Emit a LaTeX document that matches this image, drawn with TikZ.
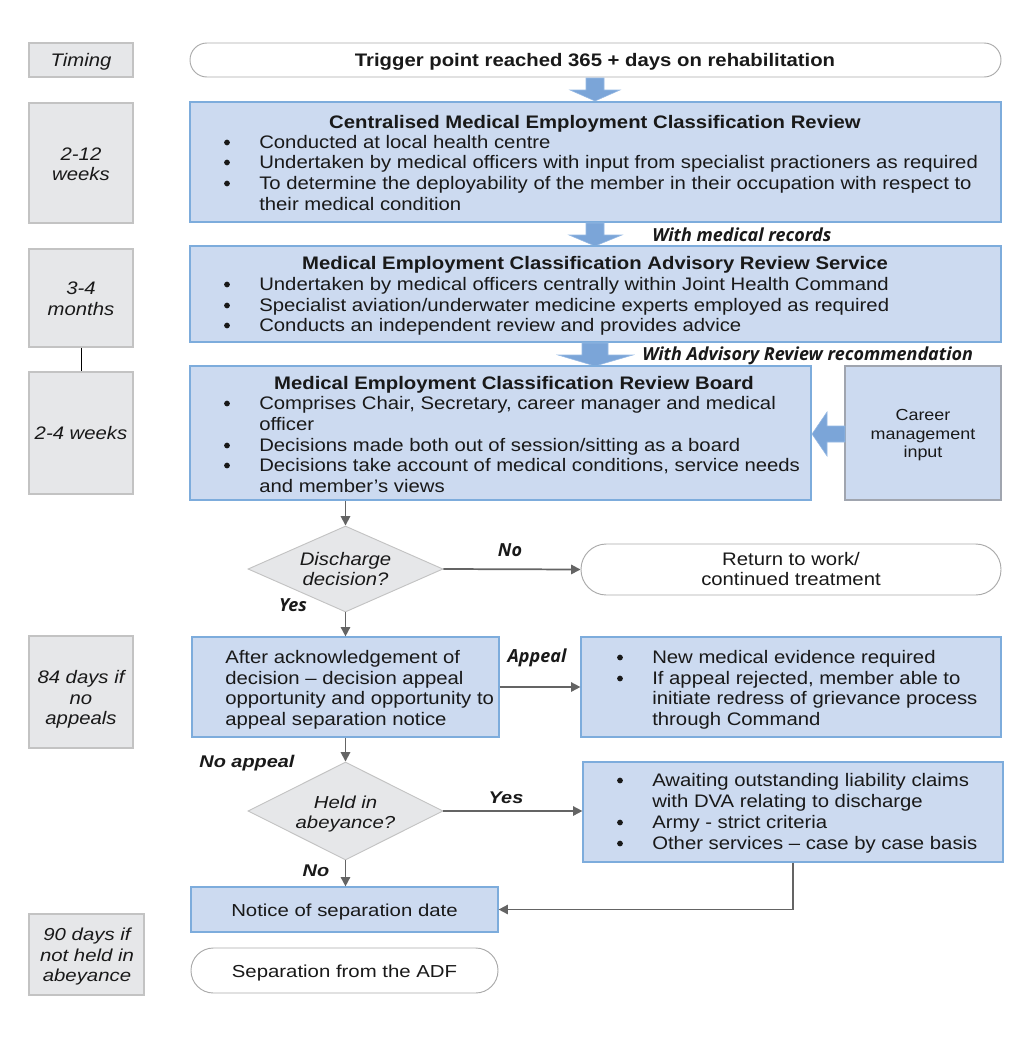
\documentclass[tikz,border=0pt]{standalone}
\usepackage{fontspec}
\setmainfont{Liberation Sans}[FakeStretch=1.12]
\newfontfamily\lblfont{Open Sans}
\newfontfamily\widefont{Liberation Sans}[FakeStretch=1.175]
\usetikzlibrary{shapes.geometric,arrows.meta}
\definecolor{bfill}{RGB}{204,218,240}
\definecolor{bborder}{RGB}{125,172,220}
\definecolor{gfill}{RGB}{230,231,233}
\definecolor{gborder}{RGB}{195,195,195}
\definecolor{cborder}{RGB}{160,165,175}
\definecolor{rborder}{RGB}{170,170,170}
\definecolor{afill}{RGB}{123,165,216}
\definecolor{aedge}{RGB}{150,185,228}
\definecolor{connc}{RGB}{100,100,100}
\definecolor{txtc}{RGB}{25,25,25}
\newcommand\mkbox[6]{\node[#6, minimum width={(#4-#2)*0.75pt}, minimum height={(#5-#3)*0.75pt}] (#1) at ({(#2+#4)/2},{(#3+#5)/2}) {};}
\newcommand\bl[4]{\node[txt,anchor=base west] (#1) at (#2,#3+7) {#4};}
\newcommand\bc[4]{\node[txt,anchor=base] (#1) at (#2,#3+7) {#4};}
\newcommand\bu[3]{\node[bdot] (#1) at (#2,#3+1.5) {};}
\tikzset{
  bbox/.style={draw=bborder, fill=bfill, line width=0.9pt, inner sep=0},
  gbox/.style={draw=gborder, fill=gfill, line width=0.9pt, inner sep=0},
  pill/.style={draw=rborder, fill=white, line width=0.7pt, inner sep=0},
  dia/.style={diamond, draw=gborder, fill=gfill, line width=0.7pt, inner sep=0},
  bdot/.style={circle, fill=txtc, inner sep=0, minimum size=4.3pt},
  txt/.style={inner sep=0, text=txtc, font=\fontsize{13.6}{16}\selectfont},
  ttl/.style={txt, font=\fontsize{13.6}{16}\selectfont\bfseries},
  itx/.style={txt, font=\fontsize{13.6}{16}\selectfont\itshape},
  wtx/.style={txt, font=\fontsize{13}{16}\selectfont\widefont},
  witx/.style={txt, font=\fontsize{13}{16}\selectfont\widefont\itshape},
  ctx/.style={txt, font=\fontsize{12}{14}\selectfont},
  lbl/.style={inner sep=0, text=txtc, font=\fontsize{13.5}{16}\selectfont\lblfont\bfseries\itshape},
  wlbl/.style={inner sep=0, text=txtc, font=\fontsize{12.7}{16}\selectfont\widefont\bfseries\itshape},
  conn/.style={draw=connc, line width=1.3pt, -{Triangle[length=7pt,width=7pt]}},
  barrow/.style={fill=afill, draw=aedge, line width=0.4pt},
}
\begin{document}
\begin{tikzpicture}[x=0.75pt,y=-0.75pt]
\useasboundingbox[fill=white] (0,0) rectangle (1034,1039);

% ---------- left timing boxes ----------
\mkbox{lb1}{29}{43}{133}{77}{gbox}
\node[itx] (lb1t) at (81,62) {Timing};
\mkbox{lb2}{29}{103}{133}{223}{gbox}
\bc{lb2a}{81}{153}{\itshape 2-12}
\bc{lb2b}{81}{173}{\itshape weeks}
\mkbox{lb3}{29}{249}{133}{347}{gbox}
\bc{lb3a}{81}{287}{\itshape 3-4}
\bc{lb3b}{81}{308}{\itshape months}
\mkbox{lb4}{29}{372}{133}{494}{gbox}
\bc{lb4a}{81}{432}{\itshape 2-4 weeks}
\mkbox{lb5}{29}{636}{133}{748}{gbox}
\bc{lb5a}{81}{676}{\itshape 84 days if}
\bc{lb5b}{81}{697}{\itshape no}
\bc{lb5c}{81}{717}{\itshape appeals}
\mkbox{lb6}{29}{914}{144}{995}{gbox}
\node[witx,anchor=base] (lb6a) at (87,940) {90 days if};
\node[witx,anchor=base] (lb6b) at (87,961) {not held in};
\node[witx,anchor=base] (lb6c) at (87,981) {abeyance};
\draw[black, line width=0.6pt] (lb3.south) -- (lb4.north);

% ---------- trigger ----------
\mkbox{trig}{190}{43}{1001}{77}{pill, rounded corners=12.7pt}
\node[ttl] (trigt) at (595,62) {Trigger point reached 365 + days on rehabilitation};

% block arrow 1
\path[barrow] (586,78) -- (604,78) -- (604,90) -- (620,90) -- (595,101) -- (570,90) -- (586,90) -- cycle;

% ---------- box 1 ----------
\mkbox{b1}{190}{102}{1001}{222}{bbox}
\bc{b1t}{595}{121}{\bfseries Centralised Medical Employment Classification Review}
\bu{b1u1}{227}{141}
\bl{b1a}{259}{141}{Conducted at local health centre}
\bu{b1u2}{227}{161}
\bl{b1b}{259}{161}{Undertaken by medical officers with input from specialist practioners as required}
\bu{b1u3}{227}{182}
\bl{b1c}{259}{182}{To determine the deployability of the member in their occupation with respect to}
\bl{b1d}{259}{203}{their medical condition}

% block arrow 2
\path[barrow] (586,223) -- (604,223) -- (604,235) -- (622,235) -- (595,246) -- (569,235) -- (586,235) -- cycle;
\node[lbl,anchor=west] (lab1) at (652,234.5) {With medical records};

% ---------- box 2 ----------
\mkbox{b2}{190}{246}{1001}{342}{bbox}
\bc{b2t}{595}{262}{\bfseries Medical Employment Classification Advisory Review Service}
\bu{b2u1}{227}{283}
\bl{b2a}{259}{283}{Undertaken by medical officers centrally within Joint Health Command}
\bu{b2u2}{227}{304}
\bl{b2b}{259}{304}{Specialist aviation/underwater medicine experts employed as required}
\bu{b2u3}{227}{324}
\bl{b2c}{259}{324}{Conducts an independent review and provides advice}

% block arrow 3
\path[barrow] (582,343) -- (608,343) -- (608,355) -- (633,355) -- (595,366) -- (558,355) -- (582,355) -- cycle;
\node[lbl,anchor=west] (lab2) at (642,355.5) {With Advisory Review recommendation};

% ---------- box 3 ----------
\mkbox{b3}{190}{366}{811}{500}{bbox}
\bc{b3t}{514}{382}{\bfseries Medical Employment Classification Review Board}
\bu{b3u1}{227}{402}
\bl{b3a}{259}{402}{Comprises Chair, Secretary, career manager and medical}
\bl{b3b}{259}{423}{officer}
\bu{b3u2}{227}{444}
\bl{b3c}{259}{444}{Decisions made both out of session/sitting as a board}
\bu{b3u3}{227}{464}
\bl{b3d}{259}{464}{Decisions take account of medical conditions, service needs}
\bl{b3e}{259}{485}{and member’s views}

% career box
\mkbox{cm}{845}{366}{1001}{500}{bbox, draw=cborder}
\node[ctx,anchor=base] (cma) at (923,420) {Career};
\node[ctx,anchor=base] (cmb) at (923,439) {management};
\node[ctx,anchor=base] (cmc) at (923,457) {input};
% block arrow left
\path[barrow] (845,426) -- (827,426) -- (827,412) -- (812,434) -- (827,456) -- (827,442) -- (845,442) -- cycle;

% ---------- discharge decision ----------
\node[dia, minimum width=146.25pt, minimum height=64.5pt] (d1) at (345.5,569) {};
\bc{d1a}{345.5}{558}{\itshape Discharge}
\bc{d1b}{345.5}{578}{\itshape decision?}
\draw[conn] (d1.north |- b3.south) -- (d1.north);

\mkbox{ret}{581}{544}{1001}{595}{pill, rounded corners=19pt}
\bc{reta}{791}{558}{Return to work/}
\bc{retb}{791}{578}{continued treatment}
\draw[conn] (d1.east) -- (ret.west);
\node[lbl] (lno1) at (510,550.5) {No};
\node[lbl] (lyes1) at (293,605.5) {Yes};

% ---------- box 4 ----------
\mkbox{b4}{192}{637}{499}{737}{bbox}
\bl{b4a}{225}{656}{After acknowledgement of}
\bl{b4b}{225}{677}{decision – decision appeal}
\bl{b4c}{225}{697}{opportunity and opportunity to}
\bl{b4d}{225}{718}{appeal separation notice}
\draw[conn] (d1.south) -- (d1.south |- b4.north);

\mkbox{b5}{581}{637}{1001}{737}{bbox}
\bu{b5u1}{620}{656}
\bl{b5a}{652}{656}{New medical evidence required}
\bu{b5u2}{620}{677}
\bl{b5b}{652}{677}{If appeal rejected, member able to}
\bl{b5c}{652}{697}{initiate redress of grievance process}
\bl{b5d}{652}{718}{through Command}
\draw[conn] (b4.east) -- (b5.west);
\node[lbl] (lapp) at (537,657.5) {Appeal};

% ---------- held in abeyance ----------
\node[dia, minimum width=146.25pt, minimum height=73.5pt] (d2) at (345.5,811) {};
\node[witx,anchor=base] (d2a) at (345.5,808) {Held in};
\node[witx,anchor=base] (d2b) at (345.5,828) {abeyance?};
\draw[conn] (d2.north |- b4.south) -- (d2.north);
\node[wlbl] (lnoap) at (247,763.5) {No appeal};

\mkbox{b6}{583}{762}{1003}{862}{bbox}
\bu{b6u1}{620}{779}
\bl{b6a}{652}{779}{Awaiting outstanding liability claims}
\bl{b6b}{652}{800}{with DVA relating to discharge}
\bu{b6u2}{620}{821}
\bl{b6c}{652}{821}{Army - strict criteria}
\bu{b6u3}{620}{842}
\bl{b6d}{652}{842}{Other services – case by case basis}
\draw[conn] (d2.east) -- (d2.east -| b6.west);
\node[wlbl] (lyes2) at (506,797.5) {Yes};

% ---------- notice ----------
\mkbox{b7}{191}{887}{498}{932}{bbox}
\node[wtx,anchor=base] (b7a) at (344.5,916) {Notice of separation date};
\draw[conn] (d2.south) -- (d2.south |- b7.north);
\node[wlbl] (lno2) at (316,870.5) {No};
\draw[conn] (b6.south) |- (b7.east);

\mkbox{sep}{191}{948}{498}{993}{pill, rounded corners=16.8pt}
\node[wtx,anchor=base] (sepa) at (344.5,977) {Separation from the ADF};
\end{tikzpicture}
\end{document}
